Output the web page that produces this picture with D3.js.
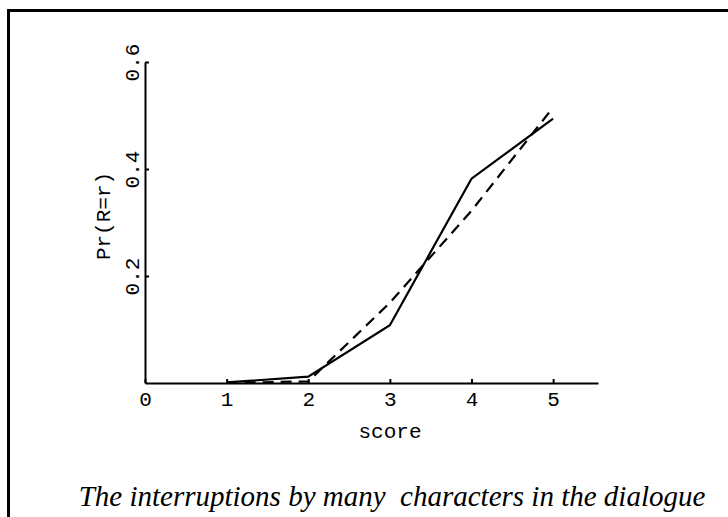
<!DOCTYPE html>
<html>
<head>
<meta charset="utf-8">
<script src="https://cdn.jsdelivr.net/npm/d3@7/dist/d3.min.js"></script>
<style>
  html, body { margin: 0; padding: 0; background: #fff; }
  svg { display: block; }
  .axis text { font-family: "Liberation Mono", "DejaVu Sans Mono", monospace; font-size: 21px; fill: #000; }
  .axis path, .axis line { stroke: #000; stroke-width: 2; }
</style>
</head>
<body>
<svg id="chart" width="728" height="517"></svg>
<script>
// Score values and the two probability curves
const scores = [1, 2, 3, 4, 5];
const observed = [0.001, 0.012, 0.108, 0.382, 0.494];
const predicted = [0.000, 0.003, 0.150, 0.322, 0.515];
const xTicks = [0, 1, 2, 3, 4, 5];
const yTicks = [0.2, 0.4, 0.6];
const xLabel = "score";
const yLabel = "Pr(R=r)";
const caption = "The interruptions by many\u00a0 characters in the dialogue";

const svg = d3.select("#chart");

// figure frame (top and left edges)
svg.append("path")
  .attr("d", "M8.5,530V10.5H740")
  .attr("fill", "none")
  .attr("stroke", "#000")
  .attr("stroke-width", 3);

const x = d3.scaleLinear().domain([0, 5.55]).range([145, 598]);
const y = d3.scaleLinear().domain([0, 0.6]).range([383, 62]);

// x axis, ticks pointing into the plot
const gx = svg.append("g")
  .attr("class", "axis")
  .attr("transform", `translate(0,${y(0)})`)
  .call(d3.axisBottom(x).tickValues(xTicks).tickFormat(d3.format("d"))
    .tickSizeInner(-4).tickSizeOuter(0));
gx.selectAll(".tick text").attr("y", 23).attr("dy", 0);

// y axis, rotated tick labels
const gy = svg.append("g")
  .attr("class", "axis")
  .attr("transform", `translate(${x(0)},0)`)
  .call(d3.axisLeft(y).tickValues(yTicks).tickFormat(d3.format(".1f"))
    .tickSizeInner(-4).tickSizeOuter(0));
gy.selectAll(".tick text")
  .attr("transform", "rotate(-90)")
  .attr("x", 0).attr("y", -6).attr("dy", 0)
  .attr("text-anchor", "middle");

// axis titles
svg.append("text")
  .attr("x", 390).attr("y", 438)
  .attr("text-anchor", "middle")
  .attr("font-family", "Liberation Mono, monospace")
  .attr("font-size", 21)
  .text(xLabel);

svg.append("text")
  .attr("transform", `translate(110,216) rotate(-90)`)
  .attr("text-anchor", "middle")
  .attr("font-family", "Liberation Mono, monospace")
  .attr("font-size", 21)
  .text(yLabel);

const line = d3.line().x((d, i) => x(scores[i])).y(d => y(d));

svg.append("path")
  .datum(predicted)
  .attr("d", line)
  .attr("fill", "none")
  .attr("stroke", "#000")
  .attr("stroke-width", 2.2)
  .attr("stroke-dasharray", "11,7");

svg.append("path")
  .datum(observed)
  .attr("d", line)
  .attr("fill", "none")
  .attr("stroke", "#000")
  .attr("stroke-width", 2.2);

// caption
svg.append("text")
  .attr("x", 392).attr("y", 506)
  .attr("text-anchor", "middle")
  .attr("font-family", "Liberation Serif, serif")
  .attr("font-style", "italic")
  .attr("font-size", 29)
  .text(caption);
</script>
</body>
</html>
